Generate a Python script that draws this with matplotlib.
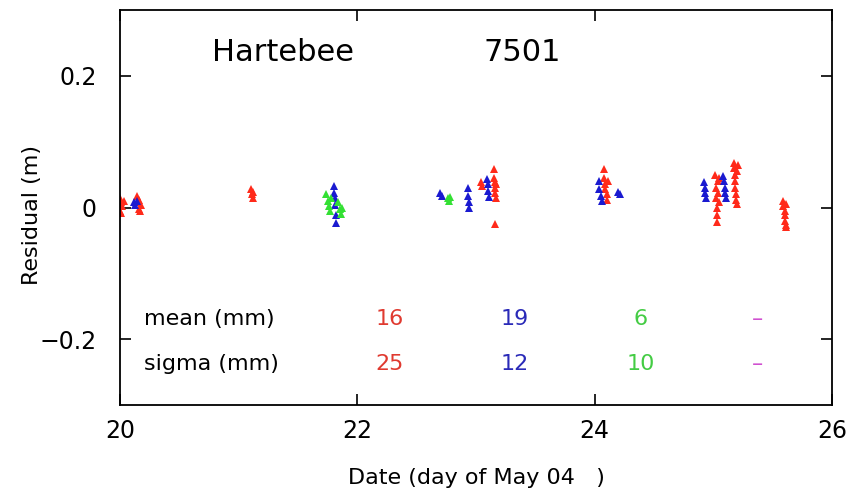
import matplotlib
matplotlib.use('Agg')
import matplotlib.pyplot as plt

# residuals per colour group: day of May 04, residual (m)
red_day = [20.00, 20.00, 20.01, 20.01, 20.02, 20.03, 20.14, 20.15, 20.16, 20.16, 20.17, 20.18,
           21.10, 21.11, 21.12, 21.12,
           23.04, 23.05, 23.15, 23.15, 23.16, 23.16, 23.16, 23.17, 23.17, 23.16,
           24.08, 24.08, 24.09, 24.09, 24.10, 24.10, 24.11,
           25.01, 25.02, 25.02, 25.03, 25.03, 25.03, 25.04, 25.04, 25.05, 25.05,
           25.17, 25.17, 25.18, 25.18, 25.18, 25.19, 25.19, 25.20, 25.20, 25.21,
           25.59, 25.59, 25.60, 25.60, 25.60, 25.61, 25.61, 25.61]
red_res = [0.015, -0.005, 0.008, -0.008, 0.002, 0.010, 0.018, 0.008, -0.002, 0.012, -0.006, 0.004,
           0.028, 0.020, 0.015, 0.024,
           0.038, 0.032, 0.058, 0.045, 0.038, 0.030, 0.022, 0.015, 0.035, -0.025,
           0.058, 0.045, 0.035, 0.028, 0.020, 0.012, 0.040,
           0.050, 0.030, 0.015, 0.000, -0.012, -0.022, 0.040, 0.022, 0.008, 0.045,
           0.068, 0.060, 0.050, 0.040, 0.030, 0.020, 0.012, 0.006, 0.055, 0.064,
           0.010, 0.002, -0.005, -0.012, -0.020, -0.026, 0.006, -0.030]

blue_day = [20.12, 20.13, 20.14,
            21.80, 21.80, 21.81, 21.81, 21.82, 21.82,
            22.70, 22.71, 22.93, 22.93, 22.94, 22.94, 23.09, 23.10, 23.10, 23.11,
            24.04, 24.04, 24.05, 24.06, 24.20, 24.21,
            24.92, 24.93, 24.93, 24.94, 25.08, 25.09, 25.10, 25.10, 25.11]
blue_res = [0.008, 0.004, 0.010,
            0.032, 0.022, 0.014, 0.004, -0.012, -0.024,
            0.022, 0.018, 0.030, 0.018, 0.008, 0.000, 0.044, 0.035, 0.025, 0.016,
            0.040, 0.028, 0.018, 0.010, 0.024, 0.020,
            0.038, 0.030, 0.022, 0.015, 0.048, 0.040, 0.030, 0.022, 0.014]

green_day = [21.74, 21.75, 21.76, 21.77, 21.78, 21.84, 21.85, 21.86, 21.87,
             22.76, 22.77, 22.78]
green_res = [0.020, 0.010, 0.003, -0.005, 0.015, 0.008, -0.002, -0.010, 0.000,
             0.014, 0.010, 0.016]

stat_labels = ['mean (mm)', 'sigma (mm)']
mean_vals = ['16', '19', '6', '\u2013']
sigma_vals = ['25', '12', '10', '\u2013']
stat_colors = ['#e03a30', '#2a2ab8', '#44cc44', '#d050d0']

fig = plt.figure(figsize=(8.52, 4.98), dpi=100)
ax = fig.add_axes([120 / 852, 93 / 498, 712 / 852, 395 / 498])

ax.plot(red_day, red_res, '^', color='#ff2a1a', ms=6, mew=0)
ax.plot(blue_day, blue_res, '^', color='#1a1ad0', ms=6, mew=0)
ax.plot(green_day, green_res, '^', color='#33e033', ms=6, mew=0)

ax.set_xlim(20, 26)
ax.set_ylim(-0.3, 0.3)
ax.set_xticks([20, 22, 24, 26])
ax.set_yticks([-0.2, 0, 0.2])
ax.set_yticklabels(['\u22120.2', '0', '0.2'])
ax.tick_params(direction='in', length=8, width=1.2, top=True, right=True,
               labelsize=17, colors='black')
ax.tick_params(axis='y', pad=17)
ax.tick_params(axis='x', pad=10)
for s in ax.spines.values():
    s.set_linewidth(1.3)

ax.set_xlabel('Date (day of May 04   )', fontsize=16, labelpad=18)
ax.set_ylabel('Residual (m)', fontsize=16)
ax.yaxis.set_label_coords(-0.11, 0.48)

ax.text(21.37, 0.235, 'Hartebee', fontsize=22, ha='center', va='center')
ax.text(23.39, 0.235, '7501', fontsize=22, ha='center', va='center')

ycoords = [-0.17, -0.237]
xs = [22.27, 23.33, 24.39, 25.37]
for yy, lab, vals in zip(ycoords, stat_labels, [mean_vals, sigma_vals]):
    ax.text(20.2, yy, lab, fontsize=16, ha='left', va='center')
    for x, v, c in zip(xs, vals, stat_colors):
        ax.text(x, yy, v, fontsize=16, ha='center', va='center', color=c)

fig.savefig('out.png', dpi=100)
